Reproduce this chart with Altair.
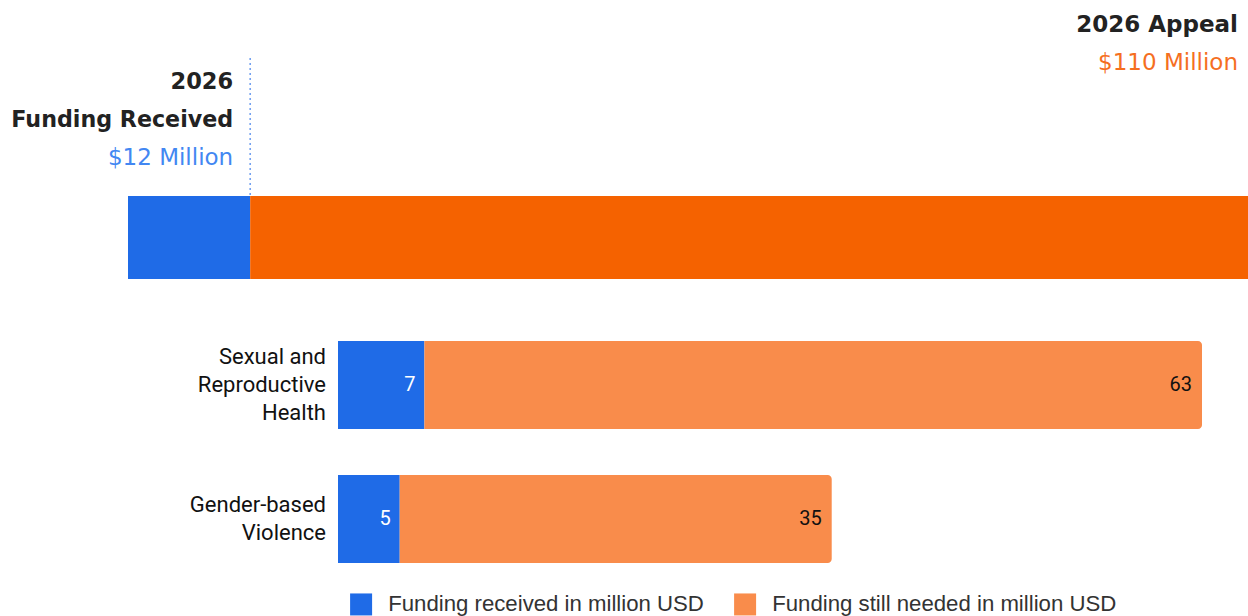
import altair as alt
import pandas as pd

categories = ["Funding received in million USD", "Funding still needed in million USD"]
appeal_received = 12
appeal_total = 110

sectors = ["Sexual and Reproductive Health", "Gender-based Violence"]
sector_labels = ["Sexual and\nReproductive\nHealth", "Gender-based\nViolence"]
received = [7, 5]
needed = [63, 35]

FONT = "Roboto"
HFONT = "DejaVu Sans"

# ---------------- top summary bar ----------------
top_df = pd.DataFrame({
    "row": ["total", "total"],
    "cat": categories,
    "start": [0, appeal_received],
    "end": [appeal_received, appeal_total],
})

xs_top = alt.Scale(domain=[0, appeal_total], range=[128, 1248], nice=False, zero=False)
ys_top = alt.Scale(domain=["total"], range=[196, 279], paddingInner=0, paddingOuter=0)

topbar = alt.Chart(top_df).mark_bar().encode(
    x=alt.X("start:Q", scale=xs_top, axis=None),
    x2="end:Q",
    y=alt.Y("row:N", scale=ys_top, axis=None),
    color=alt.Color("cat:N", scale=alt.Scale(domain=categories, range=["#1f6be7", "#f56200"]), legend=None),
)

rule = alt.Chart(pd.DataFrame({"v": [appeal_received]})).mark_rule(
    color="#6b9cf0", strokeDash=[2, 3], strokeWidth=1.5
).encode(
    x=alt.X("v:Q", scale=xs_top, axis=None),
    y=alt.value(58),
    y2=alt.value(196),
)

def ann(value, text, y, color, bold, dx, size):
    return alt.Chart(pd.DataFrame({"v": [value], "t": [text]})).mark_text(
        align="right", baseline="middle", font=HFONT, fontSize=size,
        fontWeight="bold" if bold else "normal", color=color, dx=dx
    ).encode(
        x=alt.X("v:Q", scale=xs_top, axis=None),
        y=alt.value(y),
        text="t:N",
    )

top = alt.layer(
    topbar, rule,
    ann(appeal_received, "2026", 82, "#222222", True, -17, 22.5),
    ann(appeal_received, "Funding Received", 120, "#222222", True, -17, 22.2),
    ann(appeal_received, "$12 Million", 158, "#4287f2", False, -17, 23),
    ann(appeal_total, "2026 Appeal", 25, "#222222", True, -10, 23),
    ann(appeal_total, "$110 Million", 63, "#f56f1f", False, -10, 23),
)

# ---------------- sector bars ----------------
rec_df = pd.DataFrame({"sector": sectors, "cat": categories[0], "start": [0] * len(sectors), "end": received})
need_df = pd.DataFrame({
    "sector": sectors, "cat": categories[1],
    "start": received, "end": [r + n for r, n in zip(received, needed)], "val": needed,
})
lab_df = pd.DataFrame({"sector": sectors, "label": sector_labels, "zero": [0] * len(sectors)})

xs_bot = alt.Scale(domain=[0, 70], range=[338, 1202], nice=False, zero=False)
ys_bot = alt.Scale(domain=sectors, range=[341, 563], paddingInner=0.343, paddingOuter=0)
color_bot = alt.Color(
    "cat:N",
    scale=alt.Scale(domain=categories, range=["#1f6be7", "#f98c4b"]),
    legend=alt.Legend(
        orient="none", legendX=350, legendY=593, direction="horizontal", title=None,
        symbolType="square", symbolSize=484, symbolStrokeWidth=0, symbolOpacity=1,
        labelFontSize=22.2, labelFont="Liberation Sans", labelColor="#333333",
        columnPadding=30, labelOffset=16, labelLimit=600,
    ),
)

rec_bars = alt.Chart(rec_df).mark_bar().encode(
    x=alt.X("start:Q", scale=xs_bot, axis=None), x2="end:Q",
    y=alt.Y("sector:N", scale=ys_bot, axis=None), color=color_bot,
)
need_bars = alt.Chart(need_df).mark_bar(cornerRadiusTopRight=4, cornerRadiusBottomRight=4).encode(
    x=alt.X("start:Q", scale=xs_bot, axis=None), x2="end:Q",
    y=alt.Y("sector:N", scale=ys_bot, axis=None), color=color_bot,
)
rec_text = alt.Chart(rec_df).mark_text(
    align="right", baseline="middle", dx=-9, font=FONT, fontSize=20, color="white"
).encode(
    x=alt.X("end:Q", scale=xs_bot, axis=None),
    y=alt.Y("sector:N", scale=ys_bot, axis=None), text="end:Q",
)
need_text = alt.Chart(need_df).mark_text(
    align="right", baseline="middle", dx=-10, font=FONT, fontSize=20, color="#111111"
).encode(
    x=alt.X("end:Q", scale=xs_bot, axis=None),
    y=alt.Y("sector:N", scale=ys_bot, axis=None), text="val:Q",
)

def label_layer(sector, n_lines):
    return alt.Chart(lab_df).transform_filter(
        alt.datum.sector == sector
    ).mark_text(
        align="right", baseline="middle", dx=-12, dy=-14 * (n_lines - 1),
        font=FONT, fontSize=22, lineHeight=28, lineBreak="\n", color="#111111"
    ).encode(
        x=alt.X("zero:Q", scale=xs_bot, axis=None),
        y=alt.Y("sector:N", scale=ys_bot, axis=None), text="label:N",
    )

labels = [label_layer(s, lab.count("\n") + 1) for s, lab in zip(sectors, sector_labels)]

bottom = alt.layer(rec_bars, need_bars, rec_text, need_text, *labels)

chart = alt.layer(top, bottom).resolve_scale(
    x="independent", y="independent", color="independent"
).properties(
    width=1248, height=616, padding=0, autosize="none", background="white"
).configure_view(stroke=None)

chart.save("out.html", embed_options={"renderer": "svg", "actions": False})
